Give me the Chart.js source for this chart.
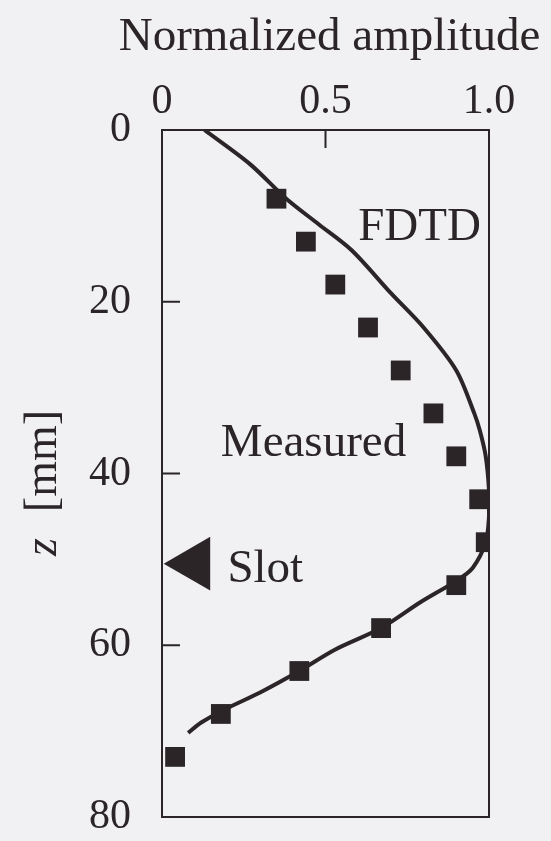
<!DOCTYPE html>
<html>
<head>
<meta charset="utf-8">
<script src="https://cdn.jsdelivr.net/npm/chart.js@4"></script>
<style>
  body { margin: 0; background: #f1f1f3; overflow: hidden; }
  #wrap { width: 551px; height: 841px; }
</style>
</head>
<body>
<div id="wrap"><canvas id="grafico"></canvas></div>
<script>
// datos
const medidoZ = [8, 13, 18, 23, 28, 33, 38, 43, 48, 53, 58, 63, 68, 73];
const medidoAmp = [0.35, 0.44, 0.53, 0.63, 0.73, 0.83, 0.90, 0.97, 0.99, 0.90, 0.67, 0.42, 0.18, 0.04];

const fdtdZ = [0, 4, 8, 11, 14, 19, 23, 28, 33, 35, 38, 42, 45, 48, 51, 52.5, 55, 58, 60.5, 63, 65.5, 67.5, 69, 70.2];
const fdtdAmp = [0.13, 0.27, 0.38, 0.48, 0.58, 0.70, 0.80, 0.90, 0.955, 0.972, 0.99, 1.0, 1.0, 0.99, 0.95, 0.90, 0.79, 0.67, 0.53, 0.42, 0.30, 0.19, 0.12, 0.08];

const slotZ = [50.5];
const slotAmp = [0.1];

const xTicks = [0, 0.5, 1.0];
const xTickLabels = ['0', '0.5', '1.0'];
const yTicks = [0, 20, 40, 60, 80];
const yTickLabels = ['0', '20', '40', '60', '80'];

const tinta = '#2b2527';
const serif = '"Liberation Serif", "Times New Roman", serif';
const wrap = document.getElementById('wrap');

function puntos(xs, ys) {
  return xs.map((v, i) => ({ x: v, y: ys[i] }));
}

// caja, marcas hacia adentro y textos
const extras = {
  id: 'extras',
  afterDraw(chart) {
    const { ctx, chartArea: a, scales } = chart;
    const sx = scales.x, sy = scales.y;
    ctx.save();
    ctx.strokeStyle = tinta;
    ctx.lineWidth = 2;
    ctx.strokeRect(a.left, a.top, a.right - a.left, a.bottom - a.top);
    ctx.beginPath();
    const px = sx.getPixelForValue(0.5);
    ctx.moveTo(px, a.top);
    ctx.lineTo(px, a.top + 18);
    [20, 40, 60].forEach(v => {
      const py = sy.getPixelForValue(v);
      ctx.moveTo(a.left, py);
      ctx.lineTo(a.left + 18, py);
    });
    ctx.stroke();

    ctx.fillStyle = tinta;
    ctx.textBaseline = 'alphabetic';

    // titulo eje x
    ctx.font = '47px ' + serif;
    ctx.textAlign = 'center';
    ctx.fillText('Normalized amplitude', (a.left + a.right) / 2 + 4, 50);

    ctx.textAlign = 'left';
    ctx.fillText('FDTD', sx.getPixelForValue(0.6), sy.getPixelForValue(12.8));
    ctx.fillText('Measured', sx.getPixelForValue(0.18), sy.getPixelForValue(38));
    ctx.fillText('Slot', sx.getPixelForValue(0.2), sy.getPixelForValue(52.6));

    // titulo eje y: z [mm]
    ctx.translate(56, 483);
    ctx.rotate(-Math.PI / 2);
    ctx.font = 'italic 46px ' + serif;
    const wz = ctx.measureText('z').width;
    ctx.font = '46px ' + serif;
    const wmm = ctx.measureText('[mm]').width;
    const gap = 26;
    let x0 = -(wz + gap + wmm) / 2;
    ctx.font = 'italic 46px ' + serif;
    ctx.fillText('z', x0, 0);
    ctx.font = '46px ' + serif;
    ctx.fillText('[mm]', x0 + wz + gap, 0);
    ctx.restore();
  }
};

const grafico = new Chart(document.getElementById('grafico'), {
  type: 'scatter',
  data: {
    datasets: [{
      label: 'FDTD',
      data: puntos(fdtdAmp, fdtdZ),
      showLine: true,
      borderColor: tinta,
      borderWidth: 4,
      pointRadius: 0,
      tension: 0.3,
      fill: false
    }, {
      label: 'Measured',
      data: puntos(medidoAmp, medidoZ),
      pointStyle: 'rect',
      pointRadius: 14,
      backgroundColor: tinta,
      borderWidth: 0
    }, {
      label: 'Slot',
      data: puntos(slotAmp, slotZ),
      pointStyle: 'triangle',
      rotation: -90,
      pointRadius: 31,
      backgroundColor: tinta,
      borderWidth: 0
    }]
  },
  options: {
    responsive: true,
    maintainAspectRatio: false,
    animation: false,
    layout: { padding: { left: 0, top: 0, right: 62, bottom: 24 } },
    plugins: { legend: { display: false }, tooltip: { enabled: false } },
    scales: {
      x: {
        type: 'linear',
        position: 'top',
        min: 0,
        max: 1,
        afterBuildTicks: s => { s.ticks = xTicks.map(v => ({ value: v })); },
        afterFit: s => { s.height = 130; s.paddingLeft = 0; s.paddingRight = 0; },
        grid: { display: false, drawTicks: false },
        border: { display: false },
        ticks: {
          padding: 3,
          color: tinta,
          font: { family: serif, size: 42 },
          callback: (v) => xTickLabels[xTicks.indexOf(v)]
        }
      },
      y: {
        type: 'linear',
        reverse: true,
        min: 0,
        max: 80,
        afterBuildTicks: s => { s.ticks = yTicks.map(v => ({ value: v })); },
        afterFit: s => { s.width = 162; s.paddingTop = 0; s.paddingBottom = 0; },
        grid: {
          display: true,
          drawOnChartArea: false,
          drawTicks: true,
          tickLength: 7,
          tickColor: 'rgba(0,0,0,0)'
        },
        border: { display: false },
        ticks: {
          padding: 24,
          color: tinta,
          font: { family: serif, size: 42 },
          callback: (v) => yTickLabels[yTicks.indexOf(v)]
        }
      }
    }
  },
  plugins: [extras]
});

// ajustar para que el borde inferior quede en y = 817
const dif = 817 - grafico.chartArea.bottom;
if (Math.abs(dif) > 0.5) {
  wrap.style.height = (841 + dif) + 'px';
  grafico.resize();
}
</script>
</body>
</html>
